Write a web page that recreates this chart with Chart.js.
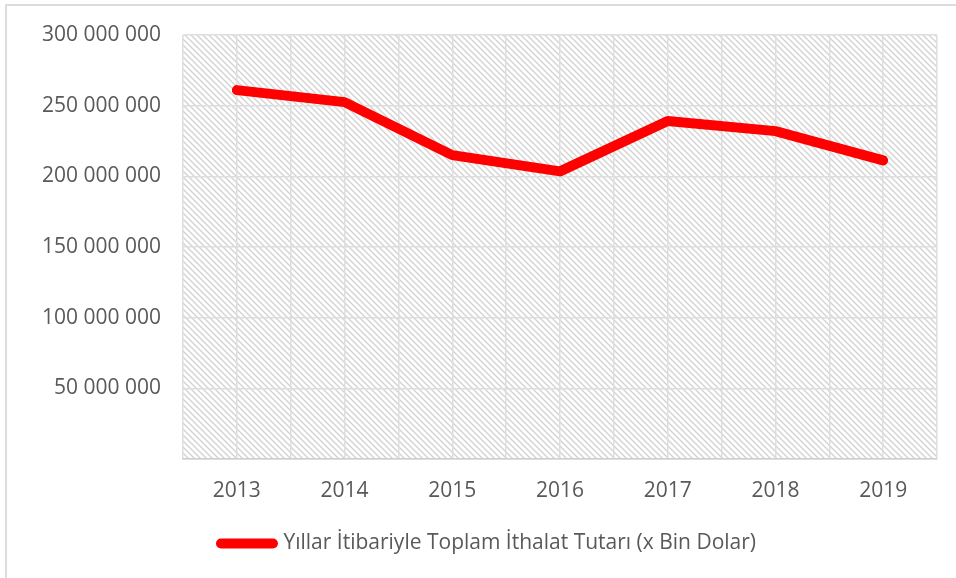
<!DOCTYPE html>
<html lang="tr">
<head>
    <meta charset="UTF-8">
    <title>Yıllar İtibariyle Toplam İthalat Tutarı</title>
    <script src="https://cdn.jsdelivr.net/npm/chart.js"></script>
    <style>
        html, body { margin: 0; padding: 0; background: #fff; }
        .wrap { position: relative; width: 956px; height: 578px; }
        .frame { position: absolute; left: 5px; top: 4px; width: 960px; height: 590px;
                 border-top: 2px solid #dcdcdc; border-left: 2px solid #dcdcdc; }
        canvas { position: absolute; left: 0; top: 0; }
    </style>
</head>
<body>
    <div class="wrap">
        <div class="frame"></div>
        <canvas id="importChart" width="956" height="578"></canvas>
    </div>
    <script>
        // veriler
        const years = [2013, 2014, 2015, 2016, 2017, 2018, 2019];
        const imports = [261000000, 252500000, 215000000, 203500000, 239200000, 232000000, 211300000];
        const yTicks = [0, 50000000, 100000000, 150000000, 200000000, 250000000, 300000000];
        const seriesLabel = 'Yıllar İtibariyle Toplam İthalat Tutarı (x Bin Dolar)';

        const ctx = document.getElementById('importChart').getContext('2d');
        const font = { family: 'Open Sans', size: 21 };

        // tarali arka plan deseni
        function makeHatch() {
            const c = document.createElement('canvas');
            c.width = 6; c.height = 6;
            const g = c.getContext('2d');
            g.strokeStyle = '#d3d3d3';
            g.lineWidth = 1.4;
            g.beginPath();
            g.moveTo(-1, -1); g.lineTo(7, 7);
            g.moveTo(-1, 5); g.lineTo(1, 7);
            g.moveTo(5, -1); g.lineTo(7, 1);
            g.stroke();
            return ctx.createPattern(c, 'repeat');
        }
        const hatch = makeHatch();

        const hatchBg = {
            id: 'hatchBg',
            beforeDraw(chart) {
                const a = chart.chartArea;
                const c = chart.ctx;
                c.save();
                c.fillStyle = hatch;
                c.fillRect(a.left, a.top, a.right - a.left, a.bottom - a.top);
                c.restore();
            }
        };

        const fmt = v => String(v).replace(/\B(?=(\d{3})+(?!\d))/g, ' ');

        new Chart(ctx, {
            type: 'line',
            data: {
                datasets: [{
                    label: seriesLabel,
                    data: years.map((y, i) => ({ x: y, y: imports[i] })),
                    borderColor: '#ff0000',
                    backgroundColor: '#ff0000',
                    borderWidth: 10,
                    borderCapStyle: 'round',
                    borderJoinStyle: 'round',
                    pointRadius: 0,
                    pointStyle: 'line',
                    tension: 0
                }]
            },
            options: {
                responsive: false,
                animation: false,
                layout: { padding: { top: 35, right: 19, bottom: 14, left: 40 } },
                plugins: {
                    tooltip: { enabled: false },
                    legend: {
                        position: 'bottom',
                        labels: {
                            usePointStyle: true,
                            pointStyle: 'line',
                            pointStyleWidth: 52,
                            color: '#595959',
                            font: font,
                            padding: 10,
                            generateLabels(chart) {
                                return Chart.defaults.plugins.legend.labels.generateLabels(chart)
                                    .map(l => Object.assign(l, { lineCap: 'round', lineWidth: 10 }));
                            }
                        }
                    }
                },
                scales: {
                    x: {
                        type: 'linear',
                        min: years[0] - 0.5,
                        max: years[years.length - 1] + 0.5,
                        grid: { color: '#dedede', lineWidth: 1.5, drawTicks: false },
                        border: { color: '#cfcfcf', width: 1.5 },
                        afterFit(s) { s.height = 64; },
                        ticks: {
                            stepSize: 0.5,
                            autoSkip: false,
                            maxRotation: 0,
                            padding: 19,
                            color: '#595959',
                            font: font,
                            callback: v => Number.isInteger(v) ? String(v) : ''
                        }
                    },
                    y: {
                        min: yTicks[0],
                        max: yTicks[yTicks.length - 1],
                        afterBuildTicks(s) { s.ticks = yTicks.map(v => ({ value: v })); },
                        afterFit(s) { s.width = 143; },
                        grid: { color: '#dedede', lineWidth: 1.5, drawTicks: false },
                        border: { display: false },
                        ticks: {
                            padding: 22,
                            color: '#595959',
                            font: font,
                            callback: v => v === 0 ? '' : fmt(v)
                        }
                    }
                }
            },
            plugins: [hatchBg]
        });
    </script>
</body>
</html>
